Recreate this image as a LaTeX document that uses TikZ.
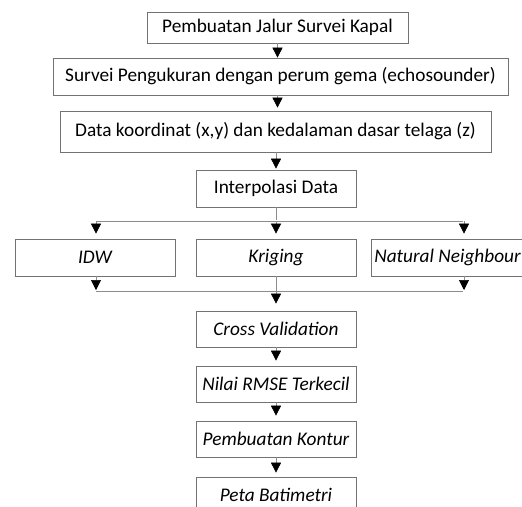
\documentclass[tikz,border=0pt]{standalone}
\usepackage{fontspec}
\setmainfont{Carlito}
\usetikzlibrary{arrows.meta}

\begin{document}
\begin{tikzpicture}[x=1pt,y=-1pt,>={Triangle[width=10pt,length=10pt,black]},shorten >=1pt,
  box node/.style={rectangle,draw=black!55,line width=0.7pt,fill=white,inner xsep=3pt,font=\fontsize{19.3}{23}\selectfont},
  ital node/.style={box node,minimum width=160pt,minimum height=36pt,font=\fontsize{19.3}{23}\selectfont\itshape},
  link/.style={draw=black!45,line width=0.6pt}]
  \clip (0,0) rectangle (522,506);
  \node[box node,minimum width=261pt,minimum height=31pt] (1) at (277.5,27.5) {Pembuatan Jalur Survei Kapal};
  \node[box node,minimum width=455pt,minimum height=37pt] (2) at (280.5,76.5) {Survei Pengukuran dengan perum gema (echosounder)};
  \node[box node,minimum width=431pt,minimum height=41pt] (3) at (275.5,131.5) {Data koordinat (x,y) dan kedalaman dasar telaga (z)};
  \node[box node,minimum width=160pt,minimum height=37pt] (4) at (276,188.5) {Interpolasi Data};
  \node[ital node,minimum height=37pt] (5) at (95,257.5) {IDW};
  \node[ital node,minimum height=37pt] (6) at (276,257.5) {Kriging};
  \node[ital node,anchor=west,minimum width=0pt,minimum height=37pt] (7) at (371,257.5) {Natural Neighbour};
  \node[ital node] (8) at (276,329) {Cross Validation};
  \node[ital node] (9) at (276,384) {Nilai RMSE Terkecil};
  \node[ital node] (10) at (276,439) {Pembuatan Kontur};
  \node[ital node] (11) at (276,495) {Peta Batimetri};

  % cabang ke tiga metode
  \coordinate (a) at (96,221);
  \coordinate (b) at (464,221);
  \coordinate (c) at (96,291);
  \coordinate (d) at (464,291);

\path[link]
  (1) edge[->,shorten >=0pt] (1 |- 2.north)
  (2.south -| 1) edge[->,shorten >=3pt] (1 |- 3.north)
  (3.south -| 4) edge[->] (4)
  (4) edge (4 |- a)
  (a) edge (b)
  (a) edge[->,shorten >=5pt] (a |- 5.north)
  (4 |- a) edge[->,shorten >=5pt] (6)
  (b) edge[->,shorten >=5pt] (b |- 7.north)
  (5.south -| a) edge[->] (c)
  (7.south -| b) edge[->] (d)
  (c) edge (d)
  (6) edge[->,shorten >=7pt] (8)
  (8) edge[->,shorten >=5pt] (9)
  (9) edge[->,shorten >=5pt] (10)
  (10) edge[->,shorten >=4pt] (11)
;
\end{tikzpicture}
\end{document}
